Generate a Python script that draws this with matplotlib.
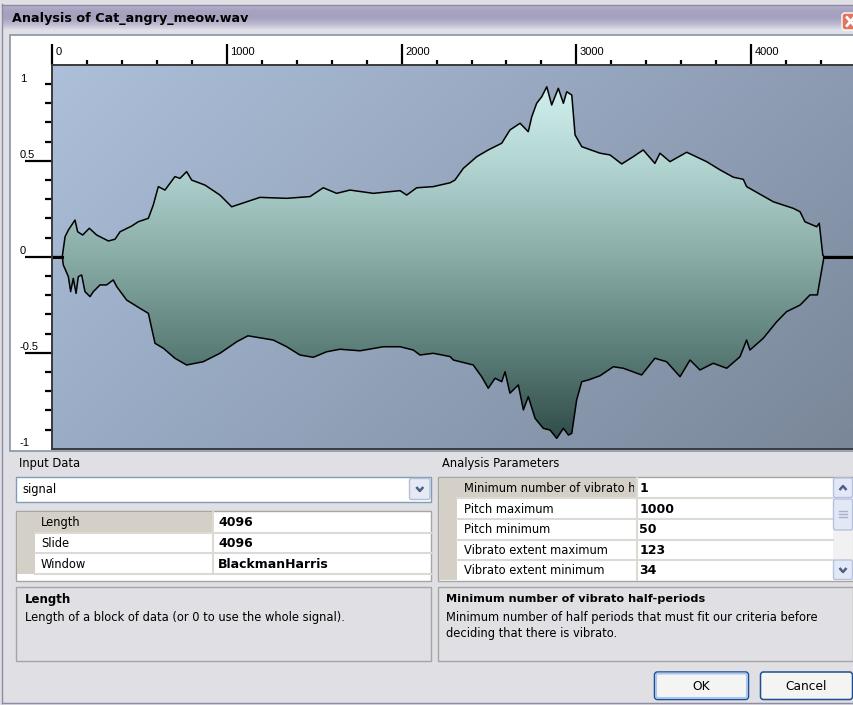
import numpy as np
import matplotlib.pyplot as plt
from matplotlib.patches import Rectangle, FancyBboxPatch, Polygon
from matplotlib.colors import LinearSegmentedColormap, to_rgb
from matplotlib.transforms import ScaledTranslation, blended_transform_factory, Bbox, TransformedBbox

# envelope of the analysed block: sample index -> amplitude
upper_x = [0, 57, 73, 92, 130, 145, 174, 212, 254, 321, 359, 388, 455, 492, 550, 578, 607, 645, 702, 731,
           769, 798, 874, 960, 1027, 1113, 1189, 1342, 1475, 1551, 1628, 1704, 1838, 1991, 2029, 2086, 2181, 2277, 2305, 2353,
           2430, 2496, 2573, 2620, 2678, 2725, 2745, 2773, 2802, 2831, 2859, 2897, 2926, 2945, 2974, 2993, 3031, 3136, 3193, 3260,
           3326, 3383, 3450, 3479, 3536, 3632, 3746, 3823, 3899, 3956, 3975, 4128, 4242, 4281, 4309, 4376, 4391, 4411, 4418, 4600]
upper_y = [0, 0, 0.104, 0.139, 0.191, 0.130, 0.113, 0.148, 0.113, 0.082, 0.091, 0.130, 0.160, 0.182, 0.200, 0.269, 0.365, 0.347, 0.417, 0.408,
           0.443, 0.399, 0.373, 0.321, 0.260, 0.286, 0.309, 0.304, 0.313, 0.359, 0.330, 0.347, 0.330, 0.344, 0.321, 0.359, 0.365, 0.385, 0.399, 0.460,
           0.521, 0.556, 0.591, 0.660, 0.695, 0.651, 0.729, 0.799, 0.833, 0.885, 0.790, 0.877, 0.799, 0.859, 0.842, 0.634, 0.573, 0.539, 0.530, 0.483,
           0.521, 0.556, 0.486, 0.539, 0.495, 0.544, 0.495, 0.452, 0.414, 0.403, 0.365, 0.286, 0.252, 0.234, 0.182, 0.156, 0.174, 0.009, 0, 0]
lower_x = [0, 57, 63, 92, 105, 120, 136, 149, 168, 187, 216, 235, 273, 311, 349, 369, 426, 502, 550, 588,
           636, 702, 769, 864, 960, 1056, 1120, 1265, 1342, 1418, 1494, 1571, 1647, 1762, 1895, 1991, 2067, 2105, 2181, 2277,
           2296, 2410, 2458, 2496, 2535, 2573, 2592, 2620, 2668, 2697, 2725, 2764, 2811, 2850, 2888, 2926, 2955, 2974, 3002, 3031,
           3069, 3136, 3212, 3269, 3374, 3450, 3517, 3594, 3651, 3708, 3784, 3861, 3937, 3975, 3994, 4070, 4147, 4204, 4281, 4338,
           4380, 4395, 4418, 4600]
lower_y = [0, 0, -0.043, -0.104, -0.182, -0.113, -0.191, -0.104, -0.095, -0.182, -0.208, -0.182, -0.147, -0.147, -0.121, -0.156, -0.226, -0.269, -0.295, -0.451,
           -0.477, -0.529, -0.564, -0.547, -0.503, -0.443, -0.412, -0.434, -0.469, -0.512, -0.524, -0.495, -0.482, -0.490, -0.469, -0.469, -0.486, -0.512, -0.503, -0.520,
           -0.538, -0.564, -0.625, -0.685, -0.633, -0.651, -0.599, -0.711, -0.668, -0.798, -0.729, -0.842, -0.894, -0.903, -0.946, -0.894, -0.929, -0.920, -0.746, -0.651,
           -0.642, -0.620, -0.573, -0.581, -0.616, -0.529, -0.547, -0.625, -0.538, -0.590, -0.555, -0.581, -0.521, -0.434, -0.486, -0.425, -0.339, -0.286, -0.252, -0.199,
           -0.199, -0.121, 0, 0]

x_major = [0, 1000, 2000, 3000, 4000]
y_major = [-0.5, 0, 0.5]
y_labels = {1: '1', 0.5: '0.5', 0: '0', -0.5: '-0.5', -1: '-1'}

input_rows = [('Length', '4096'), ('Slide', '4096'), ('Window', 'BlackmanHarris')]
param_rows = [('Minimum number of vibrato half-periods', '1'), ('Pitch maximum', '1000'),
              ('Pitch minimum', '50'), ('Vibrato extent maximum', '123'), ('Vibrato extent minimum', '34')]

W, H = 854, 705
DLG = '#e0dfe3'
GRID = '#d4d0c8'

fig = plt.figure(figsize=(W / 100, H / 100), dpi=100)
fig.patch.set_facecolor(DLG)

# canvas in pixel units for the dialog itself
ui = fig.add_axes([0, 0, 1, 1])
ui.set_xlim(0, W)
ui.set_ylim(H, 0)
ui.axis('off')


def box(x0, y0, x1, y1, fc, ec='none', lw=1.0, z=1):
    r = Rectangle((x0, y0), x1 - x0, y1 - y0, facecolor=fc, edgecolor=ec, linewidth=lw, zorder=z)
    ui.add_patch(r)
    return r


def label(x, y, s, size=8.3, bold=False, ha='left', color='black', z=5):
    return ui.text(x, y, s, fontsize=size, family='DejaVu Sans', fontweight='bold' if bold else 'normal',
                   va='center', ha=ha, color=color, zorder=z)


def vgrad(x0, y0, x1, y1, colors, z=1):
    cm = LinearSegmentedColormap.from_list('g', colors)
    ui.imshow(np.linspace(0, 1, 64)[:, None], extent=(x0, x1, y1, y0), aspect='auto',
              cmap=cm, interpolation='bilinear', zorder=z)


def chevron(cx, cy, up, color='#4d6185'):
    d = -1 if up else 1
    ui.plot([cx - 3.5, cx, cx + 3.5], [cy - 2 * d, cy + 2 * d, cy - 2 * d], color=color, lw=1.8,
            solid_capstyle='butt', zorder=7)


# window frame and title bar
ui.plot([2.5, 2.5], [4, H - 2], color='#8c8ca8', lw=1, zorder=2)
ui.plot([2.5, W], [H - 2.5, H - 2.5], color='#8c8ca8', lw=1, zorder=2)
ui.plot([2.5, W], [4.5, 4.5], color='#8c8ca8', lw=1, zorder=2)
vgrad(3, 5, W, 31, ['#b3b0c9', '#a6a2bf', '#a4a0be', '#bebcd2', '#e4e3ec'])
label(12, 18.5, 'Analysis of Cat_angry_meow.wav', size=9.2, bold=True)
ui.add_patch(FancyBboxPatch((842, 13), 20, 17, boxstyle='round,pad=0,rounding_size=3',
                            facecolor='#e2735c', edgecolor='white', linewidth=1, zorder=3))
ui.plot([847, 854], [17.5, 25.5], color='white', lw=2, zorder=4)
ui.plot([847, 854], [25.5, 17.5], color='white', lw=2, zorder=4)

# white ruler panel around the plot
box(10.5, 35, W + 5, 451, 'white', ec='#8894aa', lw=1.2, z=1)

# ---- waveform plot ----
ax_left, ax_right, ax_top, ax_bot = 52.3, W, 64.7, 448.7
ax = fig.add_axes([ax_left / W, (H - ax_bot) / H, (ax_right - ax_left) / W, (ax_bot - ax_top) / H])
ax.set_zorder(3)
ax.patch.set_visible(False)
xmax = (ax_right - ax_left) / 0.17467
ax.set_xlim(0, xmax)
ax.set_ylim(-1, 1)

# diagonal background shading
gy, gx = np.mgrid[0:1:120j, 0:1:160j]
tl, tr, bl, br = [np.array(to_rgb(c)) for c in ('#adbfd9', '#8c9bb2', '#9aadc6', '#7a8799')]
bg = ((1 - gx)[..., None] * (1 - gy)[..., None] * tl + gx[..., None] * (1 - gy)[..., None] * tr
      + (1 - gx)[..., None] * gy[..., None] * bl + gx[..., None] * gy[..., None] * br)
ax.imshow(bg, extent=(0, xmax, -1, 1), aspect='auto', interpolation='bilinear', zorder=0)

# envelope filled with a vertical teal gradient
outline = np.column_stack([upper_x + lower_x[::-1], upper_y + lower_y[::-1]])
shape = Polygon(outline, closed=True, facecolor='none', edgecolor='none', transform=ax.transData)
ax.add_patch(shape)
teal = LinearSegmentedColormap.from_list('teal', ['#2c4844', '#5b7d78', '#89aca7', '#b3d6d3', '#d8f6f4'])
fill = ax.imshow(np.linspace(0, 1, 200)[::-1, None], extent=(0, xmax, -1, 1), aspect='auto',
                 cmap=teal, interpolation='bilinear', zorder=1)
fill.set_clip_path(shape)
ax.plot(upper_x, upper_y, color='black', lw=1.1, zorder=2)
ax.plot(lower_x, lower_y, color='black', lw=1.1, zorder=2)
ax.plot(upper_x[:2], upper_y[:2], color='black', lw=2.2, zorder=2)
ax.plot(upper_x[-2:], upper_y[-2:], color='black', lw=2.2, zorder=2)

for s in ('top', 'left', 'bottom'):
    ax.spines[s].set_color('#3a3a3a')
    ax.spines[s].set_linewidth(1.4)
ax.spines['right'].set_visible(False)

ax.xaxis.set_ticks_position('top')
ax.set_xticks(x_major)
ax.set_xticks(np.arange(0, xmax, 200), minor=True)
ax.tick_params(axis='x', which='major', length=15, width=1.6, color='black', labeltop=False, labelbottom=False)
ax.tick_params(axis='x', which='minor', length=3.6, width=1.6, color='black')
ax.set_yticks(y_major)
ax.set_yticks([v / 10 for v in range(-9, 10) if v % 5 != 0], minor=True)
ax.tick_params(axis='y', which='major', length=19.5, width=1.6, color='black', labelleft=False)
ax.tick_params(axis='y', which='minor', length=5, width=1.6, color='black')

xt = blended_transform_factory(ax.transData, ax.transAxes)
for v in x_major:
    ax.text(v, 1, str(v), transform=xt + ScaledTranslation(0.035, 0.10, fig.dpi_scale_trans),
            fontsize=8, family='Liberation Sans', va='baseline', ha='left', clip_on=False)

yt = blended_transform_factory(ax.transAxes, ax.transData)
for v, s in y_labels.items():
    dy = -0.17 if v == 1 else 0.028
    ax.text((20 - ax_left) / (ax_right - ax_left), v, s,
            transform=yt + ScaledTranslation(0, dy, fig.dpi_scale_trans),
            fontsize=8, family='Liberation Sans', va='baseline', ha='left', clip_on=False)

# ---- input data panel ----
label(19, 464, 'Input Data')
box(16.5, 476.5, 431.5, 501.5, 'white', ec='#7f9db9', z=2)
label(22, 489, 'signal')
ui.add_patch(FancyBboxPatch((409.5, 478.5), 20.5, 21, boxstyle='round,pad=0,rounding_size=2',
                            facecolor='#e6eaf5', edgecolor='#b4bfd6', linewidth=1, zorder=3))
chevron(419.8, 489, up=False)

box(16.5, 510.5, 431.5, 580.5, 'white', ec='#a5a5a5', z=2)
box(17.5, 511.5, 35, 574, GRID, z=3)
rh = 20.7
for i, (name, val) in enumerate(input_rows):
    y0 = 512 + i * rh
    if i == 0:
        box(35, y0, 213, y0 + rh, GRID, z=3)
    ui.plot([35, 431], [y0 + rh, y0 + rh], color='#dcdad2', lw=1.5, zorder=4)
    label(41, y0 + rh / 2 + 0.5, name, z=5)
    label(218, y0 + rh / 2 + 0.5, val, size=9, bold=True, z=5)
ui.plot([213.5, 213.5], [512, 574], color='#dcdad2', lw=1.5, zorder=4)

box(16.5, 586.5, 431.5, 661, DLG, ec='#a5a5a5', z=2)
label(25, 599.5, 'Length', size=8.5, bold=True)
label(25, 617.5, 'Length of a block of data (or 0 to use the whole signal).')

# ---- analysis parameters panel ----
label(442, 464, 'Analysis Parameters')
box(438.5, 476.5, W - 1, 580.5, 'white', ec='#a5a5a5', z=2)
box(439.5, 477.5, 457.5, 580, GRID, z=3)
rh2 = 20.6
name_col = (457.5, 636.5)
for i, (name, val) in enumerate(param_rows):
    y0 = 477.7 + i * rh2
    if i == 0:
        box(name_col[0], y0, name_col[1], y0 + rh2, GRID, z=3)
    if i < len(param_rows) - 1:
        ui.plot([457.5, 833], [y0 + rh2, y0 + rh2], color='#dcdad2', lw=1.5, zorder=4)
    t = label(464, y0 + rh2 / 2 + 0.5, name, z=5)
    # long names are cut off at the column edge
    t.set_clip_on(True)
    t.set_clip_box(TransformedBbox(Bbox([[name_col[0], y0], [name_col[1] - 2, y0 + rh2]]), ui.transData))
    label(639.5, y0 + rh2 / 2 + 0.5, val, size=9, bold=True, z=5)
ui.plot([637, 637], [477.7, 580], color='#dcdad2', lw=1.5, zorder=4)

# scrollbar
box(833, 477.5, 852.5, 580, '#f1f1f4', z=3)
for y0, y1 in ((478, 497.5), (499, 530), (560, 579.5)):
    ui.add_patch(FancyBboxPatch((833.5, y0), 19, y1 - y0, boxstyle='round,pad=0,rounding_size=2',
                                facecolor='#e3e8f6', edgecolor='#b7c3dd', linewidth=1, zorder=4))
chevron(843, 488, up=True)
chevron(843, 570, up=False)
for gy_ in (511, 514, 517):
    ui.plot([839, 847], [gy_, gy_], color='#a7b0c8', lw=1, zorder=5)

box(438.5, 586.5, W - 1, 661, DLG, ec='#a5a5a5', z=2)
label(446, 598.5, 'Minimum number of vibrato half-periods', size=8.1, bold=True)
label(446, 618, 'Minimum number of half periods that must fit our criteria before')
label(446, 634, 'deciding that there is vibrato.')

# buttons
for x0, x1, txt, default in ((654.5, 748.5, 'OK', True), (760.5, 852.5, 'Cancel', False)):
    ui.add_patch(FancyBboxPatch((x0, 672), x1 - x0, 27.5, boxstyle='round,pad=0,rounding_size=3',
                                facecolor='#f4f4f2', edgecolor='#1d4f91', linewidth=1.1, zorder=3))
    if default:
        ui.add_patch(FancyBboxPatch((x0 + 1.5, 673.5), x1 - x0 - 3, 24.5, boxstyle='round,pad=0,rounding_size=2',
                                    facecolor='none', edgecolor='#a8c4ef', linewidth=1.4, zorder=4))
    label((x0 + x1) / 2, 686.5, txt, size=8.8, ha='center', z=5)

ui.set_xlim(0, W)
ui.set_ylim(H, 0)
fig.savefig('out.png', dpi=100, facecolor=fig.get_facecolor())
